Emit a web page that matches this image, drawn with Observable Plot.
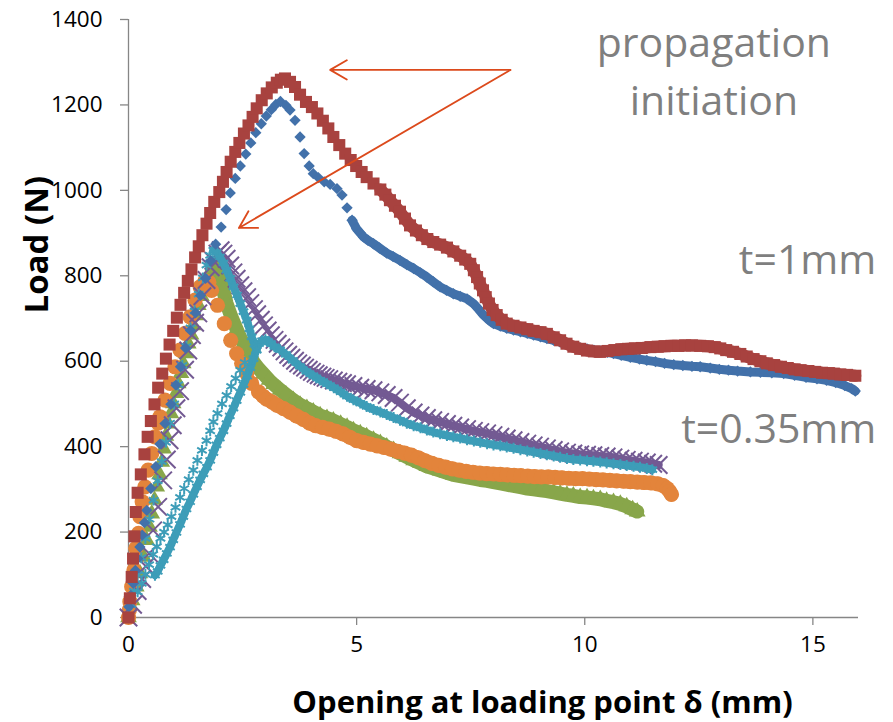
<!DOCTYPE html>
<html>
<head>
<meta charset="utf-8">
<script src="https://cdn.jsdelivr.net/npm/d3@7"></script>
<script src="https://cdn.jsdelivr.net/npm/@observablehq/plot@0.6"></script>
<style>
  body { margin: 0; background: #fff; }
  #chart svg { display: block; }
</style>
</head>
<body>
<div id="chart"></div>
<script>
// Load–opening curves, [opening δ (mm), load (N)] per specimen.
// Thickness t = 1 mm
const t1mmA = [
  [0,0],[0.01,25],[0.05,52],[0.1,80],[0.15,110],[0.2,138],[0.25,165],[0.3,193],[0.35,222],[0.4,251],
  [0.49,302],[0.6,353],[0.69,406],[0.8,454],[0.93,499],[1.04,544],[1.14,587],[1.25,631],[1.36,672],
  [1.47,713],[1.58,754],[1.69,794],[1.8,835],[1.91,874],[2.03,914],[2.14,955],[2.23,994],[2.34,1028],
  [2.45,1057],[2.57,1085],[2.68,1111],[2.79,1135],[2.91,1156],[3.02,1174],[3.13,1189],[3.23,1201],
  [3.33,1208],[3.45,1199],[3.54,1188],[3.65,1164],[3.76,1125],[3.85,1086],[3.96,1057],[4.05,1039],
  [4.16,1030],[4.29,1020],[4.42,1014],[4.57,1004],[4.68,989],[4.79,959],[4.9,930],[5.0,910],[5.08,900],
  [5.15,891],[5.25,883],[5.37,875],[5.5,865],[5.66,853],[5.8,845],[5.95,836],[6.1,826],[6.25,817],
  [6.4,807],[6.54,797],[6.68,786],[6.83,774],[6.97,766],[7.12,758],[7.27,752],[7.42,746],[7.56,735],
  [7.67,722],[7.78,708],[7.89,697],[8.0,688],[8.15,682],[8.29,677],[8.44,673],[8.59,669],[8.74,665],
  [8.88,661],[9.03,657],[9.17,653],[9.32,649],[9.46,645],[9.6,639],[9.75,634],[9.9,631],[10.05,629],
  [10.2,626],[10.34,624],[10.5,621],[10.63,618],[10.8,614],[11.0,609],[11.2,605],[11.36,602],[11.55,599],
  [11.75,595],[11.95,592],[12.15,590],[12.35,588],[12.53,587],[12.75,584],[12.95,581],[13.15,579],
  [13.35,577],[13.63,575],[13.85,574],[14.1,573],[14.36,571],[14.6,567],[14.85,562],[15.09,559],
  [15.3,555],[15.5,550],[15.7,543],[15.85,536],[15.93,530]
];
const t1mmB = [
  [0,0],[0.03,45],[0.07,95],[0.1,138],[0.13,190],[0.16,247],[0.2,292],[0.27,335],[0.35,382],[0.42,423],
  [0.49,460],[0.57,499],[0.65,538],[0.74,571],[0.82,606],[0.9,639],[0.98,671],[1.06,702],[1.14,732],
  [1.22,760],[1.3,788],[1.38,815],[1.46,843],[1.54,869],[1.62,895],[1.71,922],[1.79,947],[1.88,973],
  [1.99,996],[2.07,1020],[2.15,1043],[2.24,1067],[2.34,1090],[2.43,1111],[2.53,1133],[2.63,1152],
  [2.72,1172],[2.81,1192],[2.92,1211],[3.03,1227],[3.14,1241],[3.25,1252],[3.34,1259],[3.43,1262],
  [3.54,1254],[3.65,1242],[3.76,1224],[3.89,1207],[4.02,1195],[4.14,1180],[4.26,1163],[4.38,1145],
  [4.49,1125],[4.62,1106],[4.75,1086],[4.87,1071],[4.99,1057],[5.11,1043],[5.22,1031],[5.37,1016],
  [5.52,1002],[5.63,990],[5.73,977],[5.84,964],[5.95,950],[6.06,934],[6.17,918],[6.3,906],[6.43,895],
  [6.55,886],[6.68,879],[6.83,873],[6.98,866],[7.12,857],[7.27,847],[7.38,838],[7.49,828],[7.57,813],
  [7.64,797],[7.7,782],[7.77,766],[7.83,750],[7.9,735],[7.98,720],[8.07,708],[8.18,697],[8.29,688],
  [8.44,683],[8.59,679],[8.74,675],[8.88,671],[9.03,668],[9.17,664],[9.32,656],[9.46,649],[9.6,641],
  [9.75,634],[9.9,629],[10.05,625],[10.2,623],[10.34,622],[10.5,624],[10.65,626],[10.8,628],[10.95,629],
  [11.1,630],[11.25,631],[11.44,633],[11.6,634],[11.75,635],[11.9,636],[12.05,636],[12.2,637],
  [12.35,637],[12.53,636],[12.7,635],[12.85,633],[12.97,630],[13.1,626],[13.25,622],[13.41,617],
  [13.55,611],[13.7,605],[13.85,600],[13.99,595],[14.15,591],[14.3,587],[14.45,584],[14.6,581],
  [14.73,579],[14.9,577],[15.05,575],[15.2,573],[15.35,572],[15.46,571],[15.6,569],[15.75,568],[15.93,566]
];
// Thickness t = 0.35 mm
const t035A = [
  [0,0],[0.08,40],[0.17,72],[0.25,103],[0.33,142],[0.4,181],[0.46,212],[0.51,243],[0.57,275],[0.62,306],
  [0.68,335],[0.73,364],[0.77,395],[0.82,425],[0.87,454],[0.93,478],[0.98,501],[1.04,525],[1.09,548],
  [1.15,572],[1.2,595],[1.26,618],[1.31,641],[1.37,662],[1.42,684],[1.48,707],[1.53,731],[1.6,752],
  [1.68,774],[1.74,792],[1.79,809],[1.85,822],[1.9,828],[1.95,812],[2.0,795],[2.08,765],[2.15,735],
  [2.25,705],[2.37,675],[2.45,655],[2.55,635],[2.66,612],[2.74,598],[2.85,583],[2.96,570],[3.08,556],
  [3.18,546],[3.32,533],[3.45,522],[3.61,509],[3.76,498],[3.91,490],[4.05,482],[4.2,473],[4.35,467],
  [4.49,461],[4.65,453],[4.79,446],[4.93,438],[5.08,431],[5.22,424],[5.37,416],[5.52,408],[5.66,400],
  [5.81,392],[5.95,384],[6.1,376],[6.25,368],[6.4,361],[6.54,354],[6.68,349],[6.83,344],[6.98,339],
  [7.12,334],[7.27,331],[7.42,328],[7.57,325],[7.71,322],[7.86,320],[8.0,317],[8.15,314],[8.29,311],
  [8.44,308],[8.59,305],[8.74,302],[8.88,300],[9.03,298],[9.17,296],[9.32,293],[9.46,290],[9.61,287],
  [9.75,285],[9.9,282],[10.05,281],[10.19,279],[10.34,277],[10.48,273],[10.63,270],[10.78,266],
  [10.92,260],[11.05,253],[11.15,248]
];
const t035B = [
  [0,0],[0.02,18],[0.03,37],[0.07,72],[0.12,111],[0.16,162],[0.22,197],[0.25,236],[0.3,271],[0.36,306],
  [0.43,345],[0.51,384],[0.58,423],[0.65,455],[0.69,470],[0.8,509],[0.91,548],[1.02,587],[1.13,626],
  [1.24,665],[1.35,704],[1.46,743],[1.57,774],[1.68,788],[1.76,785],[1.82,766],[1.95,731],[2.1,688],
  [2.24,649],[2.37,618],[2.48,595],[2.59,571],[2.7,548],[2.85,528],[2.95,518],[3.03,511],[3.15,504],
  [3.25,497],[3.4,489],[3.54,481],[3.68,472],[3.83,464],[3.97,455],[4.1,449],[4.25,445],[4.4,441],
  [4.55,436],[4.7,430],[4.85,422],[5.0,414],[5.15,410],[5.3,406],[5.45,402],[5.6,398],[5.75,394],
  [5.9,389],[6.05,385],[6.2,380],[6.35,374],[6.5,367],[6.65,361],[6.8,356],[6.95,352],[7.1,348],
  [7.25,345],[7.4,342],[7.55,340],[7.7,338],[7.85,337],[8.0,336],[8.15,335],[8.3,334],[8.45,333],
  [8.6,332],[8.75,331],[8.9,330],[9.05,329],[9.2,329],[9.35,328],[9.5,327],[9.65,326],[9.8,325],
  [9.95,325],[10.1,324],[10.25,323],[10.4,322],[10.55,321],[10.7,320],[10.85,319],[11.0,318],
  [11.15,317],[11.3,316],[11.45,315],[11.6,313],[11.72,309],[11.81,302],[11.86,295],[11.9,288]
];
const t035C = [
  [0,0],[0.1,30],[0.2,62],[0.3,90],[0.38,120],[0.45,150],[0.54,204],[0.65,259],[0.76,321],[0.84,370],
  [0.9,415],[0.97,450],[1.05,490],[1.13,530],[1.24,580],[1.31,625],[1.39,661],[1.46,690],[1.53,712],
  [1.62,752],[1.71,790],[1.8,820],[1.86,835],[1.95,852],[2.02,860],[2.08,852],[2.15,840],[2.23,824],
  [2.3,808],[2.37,793],[2.45,778],[2.52,764],[2.6,750],[2.67,736],[2.75,722],[2.82,710],[2.9,697],
  [2.97,684],[3.05,672],[3.12,661],[3.2,650],[3.27,641],[3.35,632],[3.42,623],[3.5,615],[3.57,608],
  [3.65,601],[3.72,595],[3.8,590],[3.87,585],[3.95,580],[4.02,575],[4.1,571],[4.17,567],[4.25,564],
  [4.32,561],[4.4,558],[4.5,555],[4.6,552],[4.7,549],[4.79,546],[4.93,542],[5.08,538],[5.22,535],
  [5.37,532],[5.52,527],[5.66,521],[5.81,514],[5.95,503],[6.1,490],[6.25,480],[6.4,473],[6.54,467],
  [6.68,462],[6.83,458],[6.98,453],[7.12,449],[7.27,445],[7.42,441],[7.57,437],[7.71,434],[7.86,431],
  [8.0,427],[8.15,423],[8.29,419],[8.44,415],[8.59,411],[8.74,407],[8.88,403],[9.02,400],[9.17,396],
  [9.32,392],[9.46,389],[9.61,386],[9.75,384],[9.9,382],[10.05,381],[10.19,380],[10.34,378],
  [10.48,377],[10.63,375],[10.78,372],[10.92,369],[11.07,367],[11.21,365],[11.36,363],[11.5,360],[11.62,357]
];
// Fourth 0.35 mm specimen, in three branches: first loading, unloading, reloading to the end
const t035Dload = [
  [0,0],[0.06,30],[0.12,62],[0.2,100],[0.28,140],[0.37,185],[0.46,230],[0.55,275],[0.64,320],[0.73,365],
  [0.82,410],[0.91,455],[1.0,500],[1.09,545],[1.18,590],[1.27,635],[1.36,678],[1.45,718],[1.54,757],
  [1.63,795],[1.71,825],[1.79,848],[1.86,860],[1.93,855],[2.0,844],[2.08,830],[2.15,813],[2.23,794],
  [2.3,774],[2.38,755],[2.45,735],[2.52,716],[2.59,696],[2.65,676],[2.7,657],[2.76,640],[2.81,626]
];
const t035Dunload = [
  [2.55,597],[2.45,579],[2.35,560],[2.25,541],[2.15,520],[2.05,500],[1.95,478],[1.86,458],[1.79,437],
  [1.71,414],[1.61,391],[1.51,368],[1.42,345],[1.32,323],[1.22,302],[1.13,281],[1.03,258],[0.94,236],
  [0.86,217],[0.78,200],[0.7,185],[0.62,166],[0.54,148],[0.45,124],[0.37,101],[0.29,80],[0.2,60]
];
const t035Dreload = [
  [0.58,99],[0.64,108],[0.7,122],[0.77,135],[0.84,150],[0.91,165],[0.98,182],[1.05,199],[1.13,218],
  [1.2,236],[1.27,254],[1.35,271],[1.42,288],[1.5,306],[1.57,322],[1.64,336],[1.72,352],[1.79,368],
  [1.86,386],[1.93,404],[2.0,420],[2.08,437],[2.15,454],[2.22,472],[2.3,490],[2.37,508],[2.45,527],
  [2.52,545],[2.6,565],[2.67,585],[2.74,606],[2.8,626],[2.86,641],[2.93,648],[3.0,650],
  [3.06,646],[3.12,642],[3.2,634],[3.32,627],[3.45,616],[3.6,602],[3.76,588],[3.9,576],[4.05,566],
  [4.2,556],[4.35,547],[4.5,538],[4.65,528],[4.79,518],[4.93,510],[5.08,502],[5.22,494],[5.37,487],
  [5.52,481],[5.66,475],[5.81,468],[5.95,462],[6.1,455],[6.25,449],[6.4,444],[6.54,439],[6.68,434],
  [6.83,430],[6.98,426],[7.12,423],[7.27,420],[7.42,416],[7.57,413],[7.71,410],[7.86,407],[8.0,404],
  [8.15,402],[8.29,399],[8.44,396],[8.59,393],[8.74,390],[8.88,387],[9.03,384],[9.17,381],[9.32,378],
  [9.46,375],[9.61,372],[9.75,370],[9.9,369],[10.05,367],[10.19,366],[10.34,364],[10.48,362],
  [10.63,360],[10.78,358],[10.92,356],[11.07,354],[11.21,352],[11.36,349],[11.48,346]
];

// Axis ticks and titles
const xTicks = [0, 5, 10, 15];
const yTicks = [0, 200, 400, 600, 800, 1000, 1200, 1400];
const xTitle = "Opening at loading point δ (mm)";
const yTitle = "Load (N)";

// Annotations: labels (baseline position in data units) and arrows
const notesCentered = [
  {text: "propagation", x: 12.83, y: 1312},
  {text: "initiation", x: 12.83, y: 1176}
];
const notesRight = [
  {text: "t=1mm", x: 16.39, y: 804},
  {text: "t=0.35mm", x: 16.39, y: 409}
];
const arrows = [
  {x1: 8.37, y1: 1282, x2: 4.42, y2: 1282},
  {x1: 8.37, y1: 1282, x2: 2.42, y2: 912}
];

// Marker style per series, in drawing order (later ones on top).
// Where the recorded points crowd together (from bandFrom on) they merge into a solid band.
const series = [
  {data: t035A, symbol: "triangle", r: 6.2, color: "#88A64A", filled: true, bandFrom: 1.9, band: 14},
  {data: t035B, symbol: "circle", r: 7.6, color: "#E3843B", filled: true, bandFrom: 2.85, band: 14},
  {data: t035C, symbol: "times", r: 8, color: "#735A93", filled: false, bandFrom: 3.9, band: 8},
  {data: t035Dload, symbol: "asterisk", r: 5.2, color: "#3D9DB8", filled: false, bandFrom: 1.86, band: 8},
  {data: t035Dunload, symbol: "asterisk", r: 5.2, color: "#3D9DB8", filled: false, bandFrom: null},
  {data: t035Dreload, symbol: "asterisk", r: 5.2, color: "#3D9DB8", filled: false, bandFrom: 0.5, band: 8},
  {data: t1mmA, symbol: "diamond2", r: 5.1, color: "#4271AA", filled: true, bandFrom: 4.9, band: 9},
  {data: t1mmB, symbol: "square", r: 6.8, color: "#A8423F", filled: true, bandFrom: 5.4, band: 12}
];

const axisGray = "#868686";
const noteGray = "#7F7F7F";
const arrowRed = "#DC4A1C";

const seriesMarks = series.flatMap(s => {
  const marks = [];
  if (s.bandFrom != null) {
    marks.push(Plot.line(s.data.filter(d => d[0] >= s.bandFrom), {
      x: d => d[0], y: d => d[1],
      stroke: s.color, strokeWidth: s.band, strokeLinejoin: "round", strokeLinecap: "round"
    }));
  }
  marks.push(Plot.dot(s.data, {
    x: d => d[0],
    y: d => d[1],
    symbol: s.symbol,
    r: s.r,
    ...(s.filled
      ? {fill: s.color, stroke: "none"}
      : {fill: "none", stroke: s.color, strokeWidth: 2})
  }));
  return marks;
});

const chart = Plot.plot({
  width: 893,
  height: 722,
  marginLeft: 128,
  marginRight: 35,
  marginTop: 19,
  marginBottom: 105,
  style: {fontFamily: "'Open Sans', sans-serif", fontSize: "22.5px", background: "#fff", color: "#000"},
  x: {domain: [0, 16]},
  y: {domain: [0, 1400]},
  marks: [
    Plot.ruleY([0], {stroke: axisGray, strokeWidth: 1.3}),
    Plot.ruleX([0], {stroke: axisGray, strokeWidth: 1.3}),
    Plot.axisX({ticks: xTicks, tickFormat: d => String(d), tickSize: 8, tickPadding: 11,
      stroke: axisGray, strokeWidth: 1.3, fill: "#000", label: null}),
    Plot.axisY({ticks: yTicks, tickFormat: d => String(d), tickSize: 8, tickPadding: 18,
      stroke: axisGray, strokeWidth: 1.3, fill: "#000", label: null}),
    ...seriesMarks,
    Plot.arrow(arrows, {
      x1: "x1", y1: "y1", x2: "x2", y2: "y2",
      stroke: arrowRed, strokeWidth: 1.8, headLength: 16, headAngle: 60
    }),
    Plot.text(notesCentered, {
      x: "x", y: "y", text: "text", textAnchor: "middle",
      lineAnchor: "bottom", fill: noteGray, fontSize: 41
    }),
    Plot.text(notesRight, {
      x: "x", y: "y", text: "text", textAnchor: "end",
      lineAnchor: "bottom", fill: noteGray, fontSize: 41
    }),
    Plot.text([xTitle], {
      frameAnchor: "bottom", dx: 49, dy: 95, lineAnchor: "bottom",
      fontSize: 31, fontWeight: "bold", fill: "#000"
    }),
    Plot.text([yTitle], {
      frameAnchor: "left", dx: -91, dy: -5, rotate: -90,
      fontSize: 33, fontWeight: "bold", fill: "#000"
    })
  ]
});

document.getElementById("chart").append(chart);
</script>
</body>
</html>
